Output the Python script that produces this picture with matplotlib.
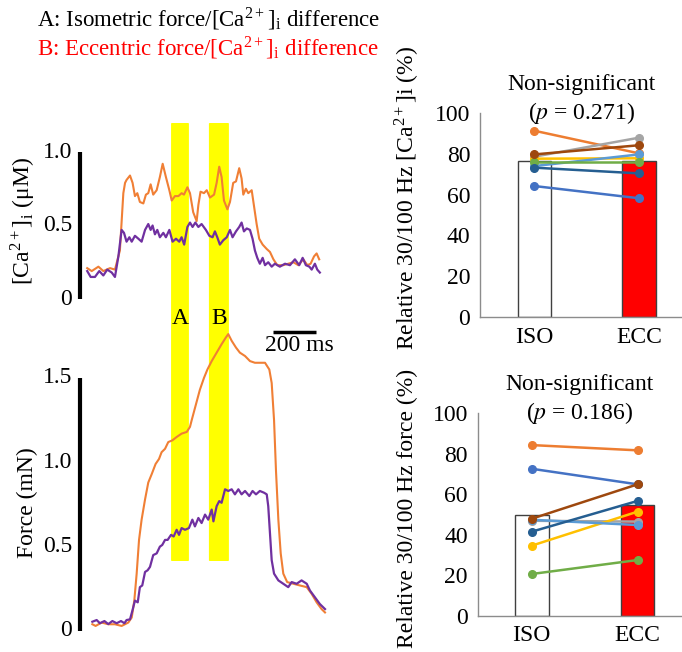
import matplotlib
matplotlib.use("Agg")
import matplotlib.pyplot as plt
from matplotlib.patches import FancyBboxPatch

plt.rcParams["font.family"] = ["Liberation Serif", "DejaVu Serif"]
plt.rcParams["mathtext.fontset"] = "stix"

W, H = 682, 652

# ---- traces (time in ms, [Ca2+]i in uM, force in mN) ----
ca_iso_t = [1, 22, 53, 76, 107, 130, 153, 169, 177, 184, 200, 212, 223, 234, 246, 262,
            274, 285, 296, 308, 324, 339, 352, 367, 383, 394, 409, 425, 440, 451, 467,
            479, 494, 510, 518, 528, 544, 557, 572, 591, 603, 615, 626, 637, 653, 665,
            680, 693, 708, 719, 727, 739, 750, 766, 777, 789, 801, 817, 836, 851, 867,
            885, 913, 936, 960, 983, 1006, 1025, 1040, 1056, 1068, 1080]
ca_iso = [0.21, 0.19, 0.22, 0.19, 0.21, 0.20, 0.33, 0.72, 0.79, 0.81, 0.84, 0.79, 0.70,
          0.72, 0.66, 0.65, 0.71, 0.72, 0.78, 0.71, 0.74, 0.83, 0.92, 0.83, 0.74, 0.67,
          0.70, 0.70, 0.72, 0.71, 0.76, 0.72, 0.59, 0.53, 0.64, 0.73, 0.72, 0.74, 0.69,
          0.71, 0.79, 0.90, 0.83, 0.67, 0.61, 0.66, 0.79, 0.80, 0.89, 0.82, 0.71, 0.75,
          0.72, 0.74, 0.63, 0.51, 0.41, 0.37, 0.34, 0.32, 0.27, 0.23, 0.23, 0.24, 0.25,
          0.23, 0.27, 0.23, 0.24, 0.29, 0.31, 0.27]

ca_ecc_t = [1, 17, 37, 57, 76, 94, 115, 130, 146, 161, 172, 184, 197, 208, 223, 239, 254,
            270, 285, 296, 305, 316, 327, 339, 355, 367, 383, 398, 414, 429, 440, 452,
            467, 479, 491, 504, 518, 533, 553, 569, 584, 595, 606, 618, 634, 650, 665,
            677, 693, 708, 719, 730, 743, 758, 770, 781, 792, 804, 817, 828, 843, 859,
            874, 897, 921, 944, 967, 987, 1003, 1018, 1034, 1045, 1060, 1071, 1083]
ca_ecc = [0.19, 0.15, 0.15, 0.19, 0.16, 0.20, 0.18, 0.15, 0.29, 0.47, 0.45, 0.39, 0.42,
          0.39, 0.43, 0.41, 0.39, 0.47, 0.51, 0.47, 0.50, 0.44, 0.47, 0.42, 0.45, 0.42,
          0.47, 0.39, 0.41, 0.39, 0.42, 0.37, 0.49, 0.52, 0.49, 0.52, 0.49, 0.51, 0.47,
          0.43, 0.42, 0.46, 0.42, 0.37, 0.40, 0.42, 0.47, 0.42, 0.46, 0.49, 0.52, 0.46,
          0.48, 0.47, 0.41, 0.33, 0.28, 0.24, 0.28, 0.23, 0.25, 0.22, 0.24, 0.22, 0.24,
          0.23, 0.27, 0.23, 0.28, 0.23, 0.22, 0.20, 0.24, 0.20, 0.18]

f_iso_t = [25, 40, 68, 99, 130, 161, 192, 208, 220, 231, 242, 254, 270, 285, 301, 319,
           335, 347, 363, 378, 397, 417, 440, 464, 479, 487, 525, 544, 560, 580, 603,
           626, 646, 657, 673, 693, 711, 735, 758, 781, 804, 828, 848, 859, 870, 879,
           890, 901, 913, 931, 960, 990, 1022, 1045, 1068, 1091, 1107]
f_iso = [0.04, 0.03, 0.05, 0.04, 0.04, 0.03, 0.05, 0.08, 0.18, 0.34, 0.54, 0.66, 0.78,
         0.88, 0.93, 0.99, 1.02, 1.06, 1.08, 1.12, 1.13, 1.15, 1.17, 1.18, 1.21, 1.25,
         1.43, 1.50, 1.55, 1.60, 1.65, 1.70, 1.74, 1.76, 1.72, 1.68, 1.65, 1.63, 1.60,
         1.59, 1.59, 1.59, 1.55, 1.47, 1.25, 0.95, 0.66, 0.46, 0.34, 0.29, 0.28, 0.27,
         0.26, 0.22, 0.17, 0.13, 0.11]

f_ecc_t = [25, 45, 60, 81, 99, 118, 138, 158, 174, 184, 200, 211, 223, 236, 246, 257,
           270, 282, 293, 308, 324, 339, 350, 363, 375, 391, 403, 417, 428, 440, 456,
           474, 490, 502, 518, 533, 549, 564, 580, 588, 603, 615, 626, 642, 657, 673,
           688, 704, 719, 735, 755, 770, 786, 804, 823, 836, 843, 851, 859, 870, 890,
           913, 936, 952, 975, 998, 1022, 1037, 1060, 1083, 1107]
f_ecc = [0.055, 0.065, 0.046, 0.059, 0.041, 0.059, 0.046, 0.059, 0.046, 0.065, 0.069,
         0.12, 0.18, 0.17, 0.26, 0.27, 0.35, 0.36, 0.38, 0.45, 0.46, 0.50, 0.51, 0.54,
         0.54, 0.57, 0.56, 0.60, 0.57, 0.61, 0.60, 0.61, 0.66, 0.62, 0.67, 0.64, 0.69,
         0.66, 0.72, 0.65, 0.74, 0.77, 0.76, 0.84, 0.83, 0.84, 0.81, 0.84, 0.81, 0.83,
         0.80, 0.83, 0.81, 0.83, 0.82, 0.81, 0.74, 0.58, 0.42, 0.34, 0.30, 0.28, 0.26,
         0.29, 0.28, 0.30, 0.28, 0.24, 0.20, 0.16, 0.13]

windows = [("A", 391, 474), ("B", 567, 660)]  # analysis windows (ms)
scale_ms = 200

# ---- paired data (%) ----
groups = ["ISO", "ECC"]
ca_means = [76.5, 76.5]
force_means = [49.6, 54.8]
subj_colors = ["#4472C4", "#ED7D31", "#A5A5A5", "#FFC000",
               "#5B9BD5", "#70AD47", "#255E91", "#9E480E"]
ca_pairs = [[64.2, 58.2], [91.3, 80.2], [78.6, 87.9], [77.6, 77.8],
            [74.0, 79.7], [76.1, 76.1], [73.2, 70.4], [79.7, 84.2]]
force_pairs = [[72.6, 64.9], [84.3, 81.7], [46.9, 46.5], [34.6, 51.4],
               [47.4, 44.8], [20.6, 27.5], [41.5, 56.7], [47.9, 64.9]]
p_values = [0.271, 0.186]

ORANGE = "#F07F35"
PURPLE = "#7030A0"
FS = 17


def box(x0, y0, x1, y1):
    # pixel box (top-left origin) -> figure fraction rect
    return [x0 / W, 1 - y1 / H, (x1 - x0) / W, (y1 - y0) / H]


fig = plt.figure(figsize=(W / 100, H / 100), dpi=100)

# time axis shared by all left-hand axes: 87 px -> 0 ms, 43 px = 200 ms
ms_per_px = scale_ms / 43
tlim = ((40 - 87) * ms_per_px, (340 - 87) * ms_per_px)

# background for the yellow windows (spans both trace panels)
bg = fig.add_axes(box(40, 0, 340, H))
bg.set_xlim(tlim)
bg.set_ylim(H, 0)
bg.axis("off")
for name, t0, t1 in windows:
    bg.add_patch(FancyBboxPatch((t0, 123), t1 - t0, 438,
                                boxstyle="round,pad=0,rounding_size=4",
                                mutation_aspect=1 / ms_per_px,
                                fc="#FFFF00", ec="none"))
    bg.text((t0 + t1) / 2, 318, name, ha="center", va="center", fontsize=FS)

# Ca panel
ax_ca = fig.add_axes(box(40, 100, 340, 320))
ax_ca.patch.set_alpha(0)
ax_ca.set_xlim(tlim)
ax_ca.set_ylim((299 - 320) / 147, (299 - 100) / 147)
ax_ca.axis("off")
ax_ca.plot(ca_iso_t, ca_iso, color=ORANGE, lw=1.5)
ax_ca.plot(ca_ecc_t, ca_ecc, color=PURPLE, lw=1.6)
bar_t = -7 * ms_per_px
lab_t = -15 * ms_per_px
ax_ca.plot([bar_t, bar_t], [0, 1.0], color="black", lw=3, solid_capstyle="butt",
           clip_on=False)
for v, s in [(0, "0"), (0.5, "0.5"), (1.0, "1.0")]:
    ax_ca.text(lab_t, v, s, ha="right", va="center", fontsize=FS)
ax_ca.text(-64 * ms_per_px, 0.53,
           r"[Ca$^{\mathregular{2+}}$]$_\mathregular{i}$ ($\mathregular{\mu}$M)",
           rotation=90, ha="center", va="center", fontsize=FS)

# Force panel
ax_f = fig.add_axes(box(40, 330, 340, 645))
ax_f.patch.set_alpha(0)
ax_f.set_xlim(tlim)
ax_f.set_ylim((631 - 645) / 168.7, (631 - 330) / 168.7)
ax_f.axis("off")
ax_f.plot(f_iso_t, f_iso, color=ORANGE, lw=1.5)
ax_f.plot(f_ecc_t, f_ecc, color=PURPLE, lw=1.6)
ax_f.plot([bar_t, bar_t], [0, 1.5], color="black", lw=3, solid_capstyle="butt",
          clip_on=False)
for v, s in [(0, "0"), (0.5, "0.5"), (1.0, "1.0"), (1.5, "1.5")]:
    ax_f.text(lab_t, v, s, ha="right", va="center", fontsize=FS)
ax_f.text(-60 * ms_per_px, 0.76, "Force (mN)", rotation=90, ha="center",
          va="center", fontsize=FS)
sb0 = 865
ax_f.plot([sb0, sb0 + scale_ms], [1.775, 1.775], color="black", lw=2.5,
          solid_capstyle="butt")
ax_f.text(sb0 + scale_ms / 2 + 25, 1.69, f"{scale_ms} ms", ha="center", va="center",
          fontsize=FS)

# header
fig.text(37 / W, 1 - 19 / H,
         r"A: Isometric force/[Ca$^{\mathregular{2+}}$]$_\mathregular{i}$ difference",
         ha="left", va="center", fontsize=16.5)
fig.text(37 / W, 1 - 48 / H,
         r"B: Eccentric force/[Ca$^{\mathregular{2+}}$]$_\mathregular{i}$ difference",
         ha="left", va="center", fontsize=16.5, color="#FF0000")


def paired_panel(rect, means, pairs, p, xl):
    ax = fig.add_axes(rect)
    x = list(range(len(groups)))
    ax.bar(x, means, width=0.32, color=["white", "#FF0000"],
           edgecolor="#404040", linewidth=1.0, zorder=1)
    for c, pr in zip(subj_colors, pairs):
        ax.plot(x, pr, color=c, lw=1.8, marker="o", ms=5.5, zorder=3)
    ax.set_xlim(xl)
    ax.set_ylim(0, 100)
    ax.set_yticks(range(0, 101, 20))
    ax.set_xticks(x)
    ax.set_xticklabels(groups)
    ax.tick_params(length=0, labelsize=FS, pad=7)
    for s in ["top", "right"]:
        ax.spines[s].set_visible(False)
    for s in ["left", "bottom"]:
        ax.spines[s].set_color("#8C8C8C")
        ax.spines[s].set_linewidth(1.0)
    ax.text(0.5, 1.14, "Non-significant", transform=ax.transAxes, ha="center",
            va="center", fontsize=FS)
    ax.text(0.5, 1.0, f"($p$ = {p})", transform=ax.transAxes, ha="center",
            va="center", fontsize=FS)
    return ax


paired_panel(box(480, 113, 682, 317), ca_means, ca_pairs, p_values[0], (-0.52, 1.41))
paired_panel(box(477.7, 413.3, 682, 615.7), force_means, force_pairs, p_values[1],
             (-0.51, 1.42))
fig.text(407 / W, 1 - 198 / H,
         r"Relative 30/100 Hz [Ca$^{\mathregular{2+}}$]i (%)",
         rotation=90, ha="center", va="center", fontsize=FS)
fig.text(407 / W, 1 - 508 / H, "Relative 30/100 Hz force (%)",
         rotation=90, ha="center", va="center", fontsize=FS)

fig.savefig("out.png", dpi=100)
